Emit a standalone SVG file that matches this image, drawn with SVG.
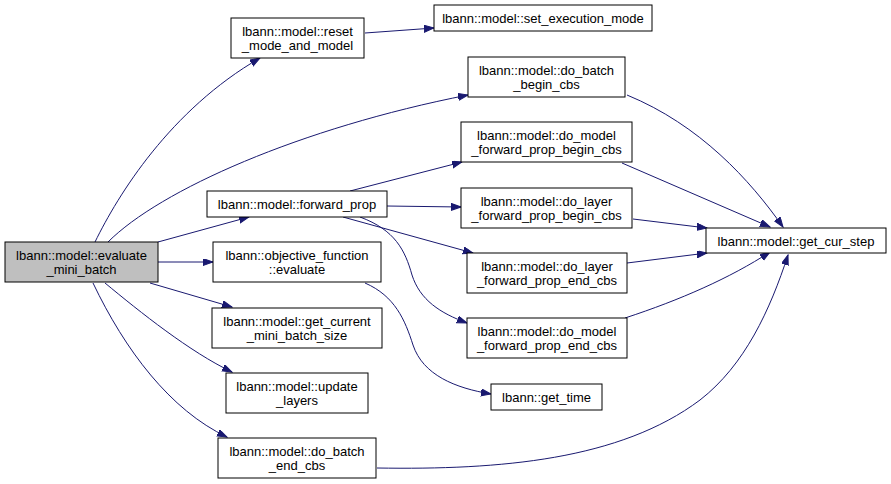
<svg xmlns="http://www.w3.org/2000/svg" width="891" height="484" viewBox="0 0 891 484">
<style>
.n rect{fill:#fff;stroke:#000;stroke-width:1}
.n text{font-family:"Liberation Sans",Arial,sans-serif;font-size:13px;text-anchor:middle;fill:#000}
.e path{fill:none;stroke:#191970;stroke-width:1;marker-end:url(#a)}
</style>
<defs>
<marker id="a" markerUnits="userSpaceOnUse" markerWidth="11" markerHeight="8" refX="10" refY="3.5" orient="auto">
<path d="M0,0 L10,3.5 L0,7 z" fill="#191970" stroke="#191970" stroke-width="1"/>
</marker>
</defs>
<rect width="891" height="484" fill="#fff"/>
<g id="edges" class="e">
<path d="M95,242 C118,195 170,110 260,58"/>
<path d="M108,242 C160,190 300,128 468,95"/>
<path d="M158,242 L249,217"/>
<path d="M158,262 L213,262"/>
<path d="M150,283 L232,307"/>
<path d="M105,283 C140,312 190,352 232,372"/>
<path d="M93,283 C125,350 170,410 227,437"/>
<path d="M365,33 L434,28"/>
<path d="M627,95 C700,125 750,180 783,227"/>
<path d="M350,191 L462,162"/>
<path d="M387,206 L461,207"/>
<path d="M343,217 L473,253"/>
<path d="M360,217 C395,230 405,250 412,275 C420,300 440,313 467,323"/>
<path d="M365,283 C395,296 405,320 413,345 C423,375 455,388 491,394"/>
<path d="M622,163 L770,227"/>
<path d="M633,219 L707,228"/>
<path d="M627,263 L707,253"/>
<path d="M625,318 C680,300 730,278 770,252"/>
<path d="M377,468 C500,470 620,460 700,400 C745,365 770,310 788,255"/>
</g>
<g id="evaluate_mini_batch" class="n"><rect x="5" y="242" width="153" height="40" style="fill:#bfbfbf"/><text x="81.5" y="259.5">lbann::model::evaluate</text><text x="81.5" y="273.5">_mini_batch</text></g>
<g id="reset_mode_and_model" class="n"><rect x="231" y="18" width="133" height="40"/><text x="297.5" y="35.5">lbann::model::reset</text><text x="297.5" y="49.5">_mode_and_model</text></g>
<g id="set_execution_mode" class="n"><rect x="434" y="5" width="218" height="26"/><text x="543" y="23">lbann::model::set_execution_mode</text></g>
<g id="do_batch_begin_cbs" class="n"><rect x="468" y="57" width="157" height="40"/><text x="546.5" y="74.5">lbann::model::do_batch</text><text x="546.5" y="88.5">_begin_cbs</text></g>
<g id="forward_prop" class="n"><rect x="207" y="191" width="180" height="26"/><text x="297" y="209">lbann::model::forward_prop</text></g>
<g id="do_model_forward_prop_begin_cbs" class="n"><rect x="461" y="122" width="171" height="40"/><text x="546.5" y="139.5">lbann::model::do_model</text><text x="546.5" y="153.5">_forward_prop_begin_cbs</text></g>
<g id="do_layer_forward_prop_begin_cbs" class="n"><rect x="461" y="188" width="171" height="40"/><text x="546.5" y="205.5">lbann::model::do_layer</text><text x="546.5" y="219.5">_forward_prop_begin_cbs</text></g>
<g id="objective_function_evaluate" class="n"><rect x="213" y="242" width="168" height="40"/><text x="297" y="259.5">lbann::objective_function</text><text x="297" y="273.5">::evaluate</text></g>
<g id="do_layer_forward_prop_end_cbs" class="n"><rect x="467" y="253" width="160" height="40"/><text x="547" y="270.5">lbann::model::do_layer</text><text x="547" y="284.5">_forward_prop_end_cbs</text></g>
<g id="get_current_mini_batch_size" class="n"><rect x="212" y="308" width="170" height="40"/><text x="297" y="325.5">lbann::model::get_current</text><text x="297" y="339.5">_mini_batch_size</text></g>
<g id="do_model_forward_prop_end_cbs" class="n"><rect x="467" y="318" width="160" height="40"/><text x="547" y="335.5">lbann::model::do_model</text><text x="547" y="349.5">_forward_prop_end_cbs</text></g>
<g id="update_layers" class="n"><rect x="226" y="373" width="142" height="40"/><text x="297" y="390.5">lbann::model::update</text><text x="297" y="404.5">_layers</text></g>
<g id="get_time" class="n"><rect x="491" y="384" width="111" height="26"/><text x="546.5" y="402">lbann::get_time</text></g>
<g id="do_batch_end_cbs" class="n"><rect x="218" y="438" width="158" height="40"/><text x="297" y="455.5">lbann::model::do_batch</text><text x="297" y="469.5">_end_cbs</text></g>
<g id="get_cur_step" class="n"><rect x="706" y="228" width="180" height="25"/><text x="796" y="246">lbann::model::get_cur_step</text></g>
</svg>
